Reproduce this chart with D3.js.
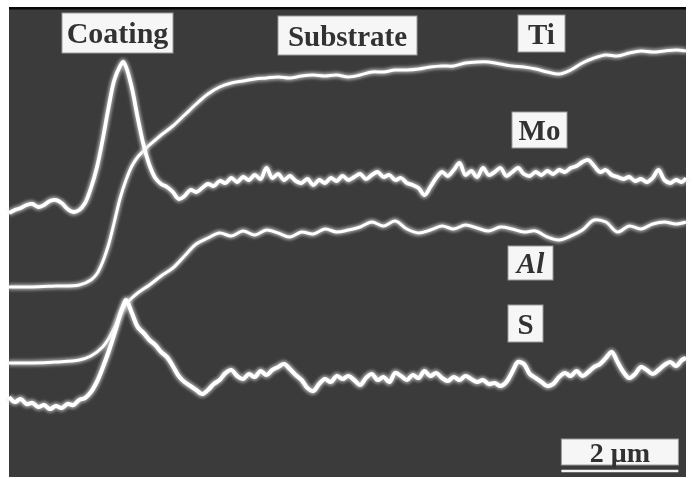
<!DOCTYPE html>
<html><head><meta charset="utf-8">
<script src="https://cdn.jsdelivr.net/npm/d3@7"></script>
<style>html,body{margin:0;padding:0;background:#fff;}svg{display:block;}</style>
</head><body><svg id="c" width="695" height="479"></svg>
<script>
// Scan position (µm) and signal intensity (counts)
const tiX = [0,0.4,0.8,1.2,1.4,1.5,1.6,1.7,1.8,1.9,2.0,2.1,2.2,2.3,2.4,2.5,2.6,2.8,3.0,3.2,3.4,3.6,3.8,4.0,4.2,4.4,4.6,4.8,5.0,5.2,5.4,5.6,5.8,6.0,6.2,6.4,6.6,6.8,7.0,7.2,7.4,7.6,7.8,8.0,8.2,8.4,8.6,8.8,9.0,9.2,9.4,9.6,9.8,10.0,10.2,10.4,10.6,10.8,11.0,11.2,11.4,11.57];
const tiY = [185,185,186,187,192,198,210,227,250,274,292,306,315,321,327,332,337,346,357,368,378,385,389,391,393,394,395,394,396,397,396,397,395,397,400,400,402,402,403,405,406,406,409,410,410,408,406,405,403,400,398,402,409,414,417,416,419,421,420,421,422,421];

const moX = [0,0.1,0.2,0.3,0.4,0.5,0.6,0.7,0.8,0.9,1.0,1.1,1.2,1.3,1.4,1.5,1.6,1.7,1.8,1.9,1.95,2.0,2.1,2.2,2.3,2.4,2.5,2.6,2.7,2.8,2.9,3.0,3.1,3.2,3.3,3.4,3.5,3.6,3.7,3.8,3.9,4.0,4.1,4.2,4.3,4.4,4.5,4.6,4.7,4.8,4.9,5.0,5.1,5.2,5.3,5.4,5.5,5.6,5.7,5.8,5.9,6.0,6.1,6.2,6.3,6.4,6.5,6.6,6.7,6.8,6.9,7.0,7.1,7.2,7.3,7.4,7.5,7.6,7.7,7.8,7.9,8.0,8.1,8.2,8.3,8.4,8.5,8.6,8.7,8.8,8.9,9.0,9.1,9.2,9.3,9.4,9.5,9.6,9.7,9.8,9.9,10.0,10.1,10.2,10.3,10.4,10.5,10.6,10.7,10.8,10.9,11.0,11.1,11.2,11.3,11.4,11.5,11.57];
const moY = [259,262,264,267,268,265,267,271,272,269,263,260,262,269,284,304,332,364,392,406,410,405,384,354,327,307,294,288,285,280,273,276,282,280,284,288,286,291,289,294,290,295,292,297,293,304,294,298,292,296,291,289,293,287,292,289,294,291,296,292,295,298,293,297,300,295,297,292,294,289,287,284,277,285,294,300,296,302,309,297,301,295,304,297,300,304,296,300,304,298,296,300,297,301,298,302,300,304,306,310,312,306,300,302,297,295,293,295,291,293,290,294,302,292,289,292,290,294];

const alX = [0,0.4,0.8,1.2,1.4,1.6,1.7,1.8,1.9,2.0,2.1,2.2,2.4,2.6,2.8,3.0,3.2,3.4,3.6,3.8,4.0,4.2,4.4,4.6,4.8,5.0,5.2,5.4,5.6,5.8,6.0,6.2,6.4,6.6,6.8,7.0,7.2,7.4,7.6,7.8,8.0,8.2,8.4,8.6,8.8,9.0,9.2,9.4,9.6,9.8,10.0,10.2,10.4,10.6,10.8,11.0,11.2,11.4,11.57];
const alY = [109,109,110,112,116,125,133,144,157,168,174,179,187,196,204,216,228,234,239,236,241,237,242,239,235,240,238,243,240,242,245,250,246,251,243,239,242,246,243,247,244,241,245,243,240,241,235,232,236,242,252,250,240,246,243,248,250,248,250];

const sX = moX;
const sY = [75,70,73,68,69,65,67,63,66,64,68,67,72,74,80,90,104,120,138,158,166,172,159,145,139,132,127,120,115,106,96,90,86,82,78,82,88,92,99,102,96,93,98,95,101,97,102,105,108,103,97,92,84,81,88,93,90,96,93,96,92,87,94,98,92,95,90,99,96,92,97,94,101,96,99,94,91,95,92,96,93,90,92,88,89,86,90,100,110,108,98,94,90,86,88,95,99,96,101,96,100,105,108,114,120,110,100,94,98,105,102,98,102,107,110,106,112,114];

const series = [
  {name:"Ti", x:tiX, y:tiY, w:3.0},
  {name:"Mo", x:moX, y:moY, w:3.8},
  {name:"Al", x:alX, y:alY, w:3.0},
  {name:"S",  x:sX,  y:sY,  w:4.2}
];

const labels = ["Coating","Substrate","Ti","Mo","Al","S"];
const scaleBarLabel = "2 μm";
const scaleBarLength = 2; // µm

const svg = d3.select("#c");
const plot = {left:9, right:686, top:8, bottom:477};

const x = d3.scaleLinear().domain([0, 11.57]).range([plot.left, plot.right]);
const y = d3.scaleLinear().domain([0, 464]).range([472, 8]);

const defs = svg.append("defs");
const f = defs.append("filter").attr("id","glow").attr("x","-5%").attr("y","-20%").attr("width","110%").attr("height","140%");
f.append("feGaussianBlur").attr("stdDeviation",1.8);
const f2 = defs.append("filter").attr("id","soft");
f2.append("feGaussianBlur").attr("stdDeviation",0.6);
const f3 = defs.append("filter").attr("id","txt");
f3.append("feGaussianBlur").attr("stdDeviation",0.45);

svg.append("rect").attr("x",plot.left).attr("y",plot.top).attr("width",plot.right-plot.left).attr("height",plot.bottom-plot.top).attr("fill","#3b3b3b");
svg.append("rect").attr("x",plot.left).attr("y",plot.top-1).attr("width",plot.right-plot.left).attr("height",2.5).attr("fill","#080808");

const line = d3.line().x((d)=>x(d[0])).y((d)=>y(d[1])).curve(d3.curveCatmullRom.alpha(0.5));

series.forEach(s=>{
  const pts = s.x.map((v,i)=>[v, s.y[i]]);
  svg.append("path").attr("d", line(pts)).attr("fill","none").attr("stroke","#e0e0e0")
    .attr("stroke-width", s.w+3.5).attr("stroke-opacity",0.6).attr("filter","url(#glow)").attr("stroke-linejoin","round");
  svg.append("path").attr("d", line(pts)).attr("fill","none").attr("stroke","#ffffff")
    .attr("stroke-width", s.w).attr("filter","url(#soft)").attr("stroke-linejoin","round");
});

const boxes = [
  {t:labels[0], bx:62, by:13, bw:111, bh:40, size:30, italic:false, base:43},
  {t:labels[1], bx:278, by:16, bw:139, bh:39, size:29, italic:false, base:46},
  {t:labels[2], bx:518, by:15, bw:47, bh:37, size:29, italic:false, base:44},
  {t:labels[3], bx:512, by:112, bw:55, bh:36, size:29, italic:false, base:140},
  {t:labels[4], bx:508, by:246, bw:45, bh:34, size:29, italic:true, base:273},
  {t:labels[5], bx:508, by:305, bw:35, bh:37, size:29, italic:false, base:334}
];
const g = svg.append("g");
boxes.forEach(b=>{
  g.append("rect").attr("x",b.bx).attr("y",b.by).attr("width",b.bw).attr("height",b.bh)
    .attr("fill","#f6f6f6").attr("stroke","#9a9a9a").attr("stroke-width",1);
  g.append("text").attr("x",b.bx+b.bw/2).attr("y",b.base).attr("text-anchor","middle")
    .attr("font-family","'Liberation Serif','DejaVu Serif',serif").attr("font-size",b.size)
    .attr("font-weight","bold").attr("font-style",b.italic?"italic":"normal")
    .attr("fill","#333").attr("filter","url(#txt)").text(b.t);
});

const sb0 = 9.44, sb1 = sb0 + scaleBarLength;
g.append("rect").attr("x",x(sb0)).attr("y",439).attr("width",x(sb1)-x(sb0)).attr("height",26)
  .attr("fill","#f6f6f6").attr("stroke","#9a9a9a");
g.append("line").attr("x1",x(sb0)).attr("x2",x(sb1)).attr("y1",471).attr("y2",471).attr("stroke","#f2f2f2").attr("stroke-width",2.5);
g.append("text").attr("x",(x(sb0)+x(sb1))/2).attr("y",462).attr("text-anchor","middle")
  .attr("font-family","'Liberation Serif','DejaVu Serif',serif").attr("font-size",28).attr("font-weight","bold")
  .attr("fill","#333").attr("filter","url(#txt)").text(scaleBarLabel);
</script></body></html>
